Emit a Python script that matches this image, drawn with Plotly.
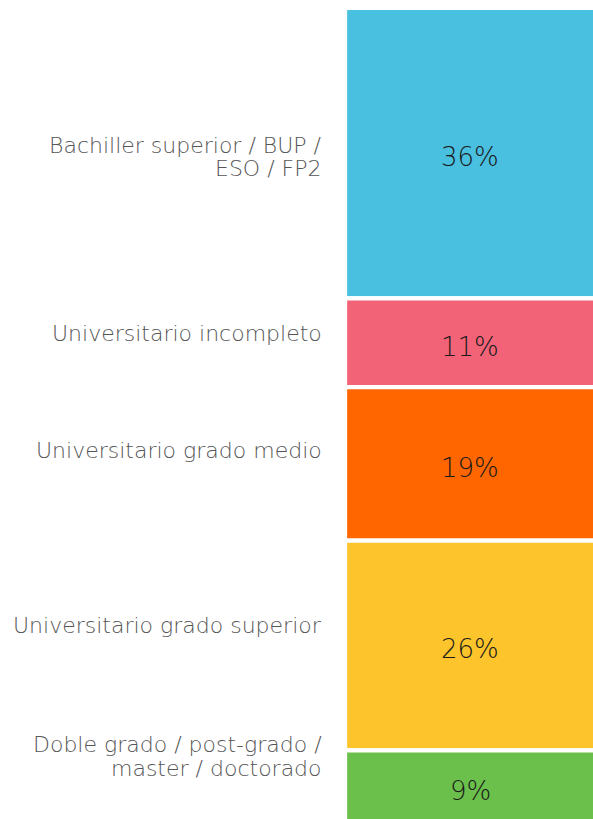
import plotly.graph_objects as go

categories = [
    "Bachiller superior / BUP /<br>ESO / FP2",
    "Universitario incompleto",
    "Universitario grado medio",
    "Universitario grado superior",
    "Doble grado / post-grado /<br>master / doctorado",
]
values = [36, 11, 19, 26, 9]
colors = ["#4AC0E0", "#F26378", "#FF6600", "#FDC42B", "#6BBF4B"]
label_yshift = [-4, 9, 13, 20, 30]
line_gap = 23.5

fig = go.Figure()
base = 0
for i, (cat, v, c) in enumerate(zip(categories, values, colors)):
    mid = base + v / 2
    fig.add_trace(go.Bar(
        x=[0], y=[v], base=[base], name=cat,
        marker=dict(color=c, line=dict(color="white", width=4.3)),
        width=1, hoverinfo="skip",
    ))
    fig.add_annotation(
        x=0, xref="x", y=mid, yref="y", yanchor="middle", yshift=-4,
        text=f"{v}%", showarrow=False,
        font=dict(family="DejaVu Sans", size=26, color="#1a1a1a", weight=200),
    )
    lines = cat.split("<br>")
    n = len(lines)
    for j, ln in enumerate(lines):
        off = ((n - 1) / 2 - j) * line_gap
        fig.add_annotation(
            x=0, xref="paper", xanchor="right", xshift=-21,
            y=mid, yref="y", yanchor="middle", yshift=label_yshift[i] + off,
            text=ln, showarrow=False, align="right",
            font=dict(family="DejaVu Sans", size=22, color="#555555", weight=200),
        )
    base += v

fig.update_layout(
    width=593, height=819,
    margin=dict(l=345, r=0, t=0, b=0),
    barmode="overlay",
    showlegend=False,
    plot_bgcolor="white", paper_bgcolor="white",
    xaxis=dict(visible=False, range=[-0.5, 0.49]),
    yaxis=dict(visible=False, range=[100.5, -0.97]),
)
fig.write_html("out.html", config={"displayModeBar": False},
               post_script="document.body.style.margin='0';document.body.style.overflow='hidden';")
